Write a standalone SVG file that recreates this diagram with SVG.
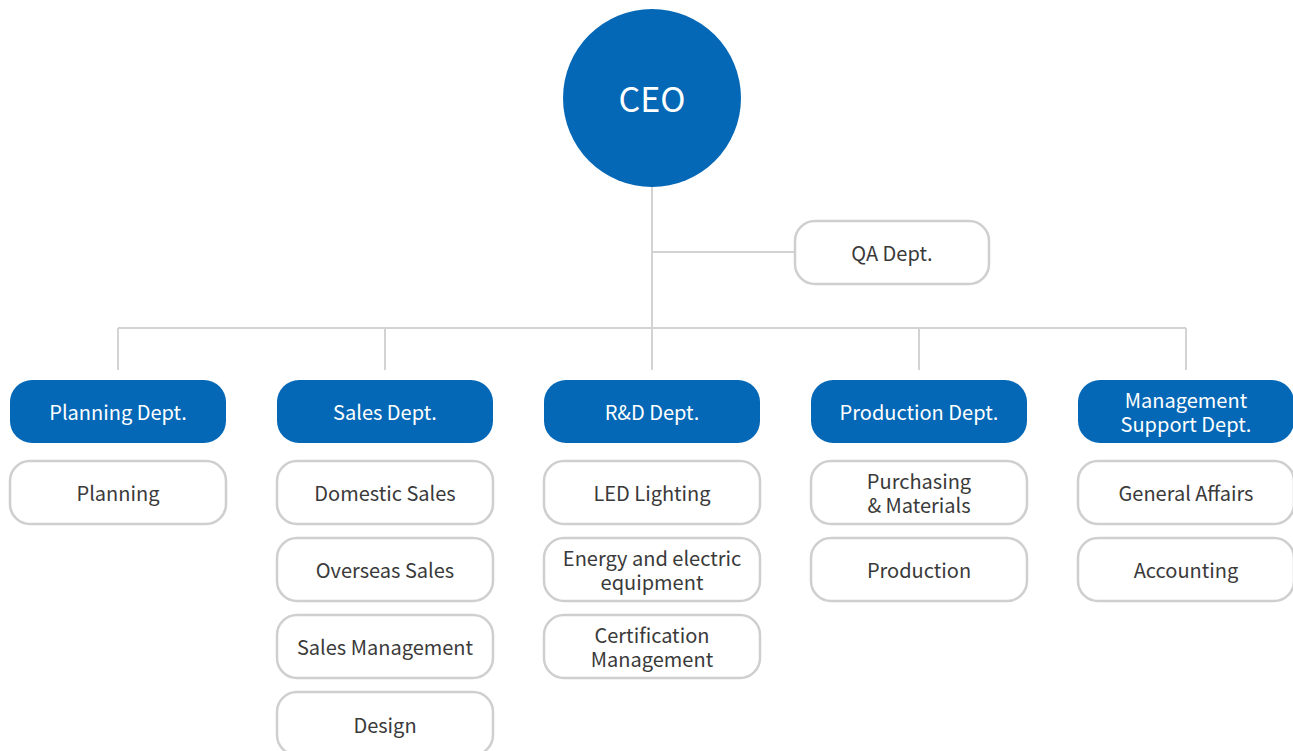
<svg xmlns="http://www.w3.org/2000/svg" width="1293" height="751" viewBox="0 0 1293 751">
<style>
text{font-family:"Noto Sans CJK KR","Source Sans Pro","Noto Sans",sans-serif;text-anchor:middle;dominant-baseline:central}
.dept rect{fill:#0468b6}
.dept text{fill:#fff;font-size:20px}
.sub rect{fill:#fff;stroke:#cfcfcf;stroke-width:2.5}
.sub text{fill:#3a3a3a;font-size:20px}
.conn{stroke:#d3d3d3;stroke-width:2;fill:none}
</style>
<rect width="1293" height="751" fill="#fff"/>
<g id="connectors" class="conn">
<path d="M652 187V328M652 252H794M118 328H1186M118 328V370M385 328V370M652 328V370M919 328V370M1186 328V370"/>
</g>
<g id="ceo"><circle cx="652" cy="98" r="89" fill="#0468b6"/><text x="652" y="97" fill="#fff" font-size="34">CEO</text></g>
<g id="qa" class="sub"><rect x="795" y="221" width="194" height="63" rx="20"/><text x="892" y="252">QA Dept.</text></g>
<g id="planning-dept" class="dept"><rect x="10" y="380" width="216" height="63" rx="22"/><text x="118" y="411">Planning Dept.</text></g>
<g id="sales-dept" class="dept"><rect x="277" y="380" width="216" height="63" rx="22"/><text x="385" y="411">Sales Dept.</text></g>
<g id="rd-dept" class="dept"><rect x="544" y="380" width="216" height="63" rx="22"/><text x="652" y="411">R&amp;D Dept.</text></g>
<g id="production-dept" class="dept"><rect x="811" y="380" width="216" height="63" rx="22"/><text x="919" y="411">Production Dept.</text></g>
<g id="mgmt-dept" class="dept"><rect x="1078" y="380" width="216" height="63" rx="22"/><text x="1186" y="399">Management</text><text x="1186" y="423">Support Dept.</text></g>
<g id="planning" class="sub"><rect x="10" y="461" width="216" height="63" rx="20"/><text x="118" y="492">Planning</text></g>
<g id="domestic-sales" class="sub"><rect x="277" y="461" width="216" height="63" rx="20"/><text x="385" y="492">Domestic Sales</text></g>
<g id="overseas-sales" class="sub"><rect x="277" y="538" width="216" height="63" rx="20"/><text x="385" y="569">Overseas Sales</text></g>
<g id="sales-management" class="sub"><rect x="277" y="615" width="216" height="63" rx="20"/><text x="385" y="646">Sales Management</text></g>
<g id="design" class="sub"><rect x="277" y="692" width="216" height="63" rx="20"/><text x="385" y="724">Design</text></g>
<g id="led-lighting" class="sub"><rect x="544" y="461" width="216" height="63" rx="20"/><text x="652" y="492">LED Lighting</text></g>
<g id="energy" class="sub"><rect x="544" y="538" width="216" height="63" rx="20"/><text x="652" y="557">Energy and electric</text><text x="652" y="581">equipment</text></g>
<g id="certification" class="sub"><rect x="544" y="615" width="216" height="63" rx="20"/><text x="652" y="634">Certification</text><text x="652" y="658">Management</text></g>
<g id="purchasing" class="sub"><rect x="811" y="461" width="216" height="63" rx="20"/><text x="919" y="480">Purchasing</text><text x="919" y="504">&amp; Materials</text></g>
<g id="production" class="sub"><rect x="811" y="538" width="216" height="63" rx="20"/><text x="919" y="569">Production</text></g>
<g id="general-affairs" class="sub"><rect x="1078" y="461" width="216" height="63" rx="20"/><text x="1186" y="492">General Affairs</text></g>
<g id="accounting" class="sub"><rect x="1078" y="538" width="216" height="63" rx="20"/><text x="1186" y="569">Accounting</text></g>
</svg>
